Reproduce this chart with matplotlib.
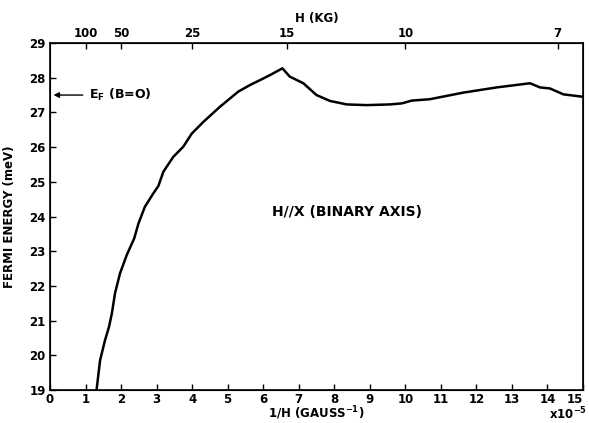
import matplotlib
matplotlib.use("Agg")
import matplotlib.pyplot as plt

# Data: 1/H (x10^-5 gauss^-1) vs Fermi energy (meV)
inv_h = [1.31, 1.41, 1.55, 1.66, 1.74, 1.83, 1.97, 2.16, 2.37, 2.49, 2.67, 2.91,
         3.05, 3.19, 3.47, 3.75, 3.99, 4.32, 4.78, 5.3, 5.63, 5.91, 6.2, 6.54,
         6.75, 6.85, 7.13, 7.5, 7.88, 8.35, 8.91, 9.57, 9.9, 10.18, 10.69,
         11.63, 12.57, 13.51, 13.79, 14.07, 14.45, 15.0]
energy = [19.0, 19.86, 20.44, 20.82, 21.2, 21.79, 22.36, 22.89, 23.37, 23.8,
          24.28, 24.67, 24.88, 25.29, 25.72, 26.01, 26.39, 26.73, 27.16, 27.6,
          27.79, 27.93, 28.08, 28.27, 28.03, 27.98, 27.84, 27.5, 27.33, 27.23,
          27.21, 27.23, 27.26, 27.34, 27.38, 27.57, 27.72, 27.84, 27.72, 27.69,
          27.52, 27.45]

x_ticks = list(range(0, 16))
y_ticks = list(range(19, 30))
top_h_labels = [100, 50, 25, 15, 10, 7]   # H in kG
ef_zero = 27.5

plt.rcParams['font.family'] = ['DejaVu Sans']
W, H = 589, 423
fig = plt.figure(figsize=(W / 100, H / 100), dpi=100)
ax = fig.add_axes([50 / W, 33 / H, 533 / W, 347 / H])

ax.plot(inv_h, energy, color='black', lw=1.8, solid_joinstyle='round')
ax.set_xlim(0, 15)
ax.set_ylim(19, 29)
ax.set_xticks(x_ticks)
ax.set_yticks(y_ticks)
fs = 8.5
ax.tick_params(direction='in', length=4, width=1, labelsize=fs, top=False, right=False)
ax.tick_params(axis='x', pad=2)
ax.tick_params(axis='y', pad=3)
for lab in ax.get_xticklabels() + ax.get_yticklabels():
    lab.set_fontweight('bold')
xl = ax.get_xticklabels()
xl[-1].set_horizontalalignment('right')
for s in ax.spines.values():
    s.set_linewidth(1.2)

ax2 = ax.twiny()
ax2.set_xlim(0, 15)
ax2.set_xticks([100.0 / h for h in top_h_labels])
ax2.set_xticklabels([str(h) for h in top_h_labels], fontsize=fs, fontweight='bold')
ax2.tick_params(direction='in', length=4, width=1, pad=2)
ax2.set_xlabel('H (KG)', fontsize=fs, fontweight='bold', labelpad=4)

fig.text(316 / W, 1 / H, '1/H (GAUSS$^{\\mathbf{-1}}$)', fontsize=fs, fontweight='bold',
         ha='center', va='bottom')
fig.text(587 / W, 1 / H, 'x10$^{\\mathbf{-5}}$', fontsize=fs, fontweight='bold',
         ha='right', va='bottom')
ax.set_ylabel('FERMI ENERGY (meV)', fontsize=fs, fontweight='bold', labelpad=10)

ax.annotate('', xy=(0.02, ef_zero), xytext=(1.0, ef_zero),
            arrowprops=dict(arrowstyle='-|>', color='black', lw=1, mutation_scale=8))
ax.text(1.1, ef_zero, 'E$_{\\mathbf{F}}$ (B=O)', fontsize=9, fontweight='bold', va='center', ha='left')
ax.text(8.36, 24.13, 'H//X (BINARY AXIS)', fontsize=10, fontweight='semibold',
        va='center', ha='center')

fig.savefig('out.png', dpi=100)
